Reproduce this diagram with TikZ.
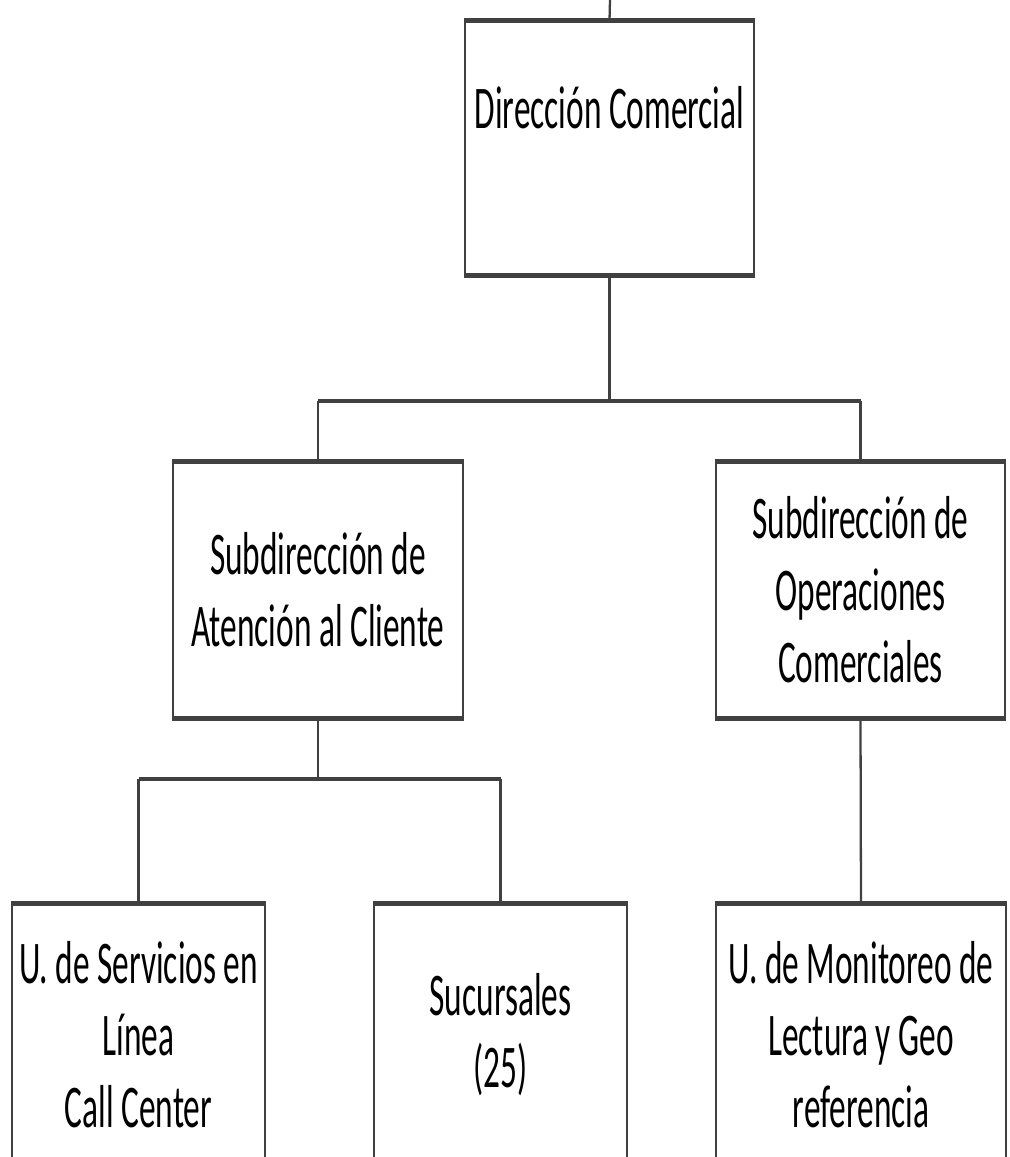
\documentclass[tikz,border=0pt]{standalone}
\usepackage{fontspec}
\setmainfont{Carlito}[FakeStretch=0.55]
\usetikzlibrary{calc}
\definecolor{linegray}{RGB}{64,64,64}

\begin{document}
\begin{tikzpicture}[x=0.02cm, y=-0.02cm,
  box/.style={draw=linegray, line width=1.3pt, inner sep=0pt, align=center, fill=white,
    font=\fontsize{34.5}{41}\selectfont},
  vline/.style={draw=linegray, line width=1.3pt},
  hline/.style={draw=linegray, line width=2.8pt}]
\useasboundingbox (0,0) rectangle (1009,1157);
\clip (0,0) rectangle (1009,1157);
\coordinate (top) at (610,0);
\coordinate (j1) at (610,401);
\coordinate (j2) at (320,779);
\node[box, minimum width=5.78cm, minimum height=5.04cm, text height=0.5cm, text depth=1.3cm] (dir) at (609.5,148) {Dirección Comercial};
\node[box, minimum width=5.8cm, minimum height=5.08cm] (sac) at (318,590) {Subdirección de\\Atención al Cliente};
\node[box, minimum width=5.78cm, minimum height=5.08cm] (soc) at (860.5,590) {Subdirección de\\Operaciones\\Comerciales};
\node[box, minimum width=5.06cm, minimum height=5.2cm] (usl) at (138.5,1035) {U. de Servicios en\\Línea\\Call Center};
\node[box, minimum width=5.06cm, minimum height=5.2cm] (suc) at (500.5,1035) {Sucursales\\(25)};
\node[box, minimum width=5.8cm, minimum height=5.2cm] (umg) at (861,1035) {U. de Monitoreo de\\Lectura y Geo\\referencia};
% thick top and bottom edges
\foreach \n in {dir,sac,soc,usl,suc,umg}
  \draw[hline] (\n.north west) -- (\n.north east) (\n.south west) -- (\n.south east);
\draw[vline] (top) -- (dir.north);
\draw[vline] (dir.south) -- (dir.south |- j1);
\draw[hline] (sac.north |- j1) -- (soc.north |- j1);
\draw[vline] (sac.north |- j1) -- (sac.north);
\draw[vline] (soc.north |- j1) -- (soc.north);
\draw[vline] (sac.south) -- (sac.south |- j2);
\draw[hline] (usl.north |- j2) -- (suc.north |- j2);
\draw[vline] (usl.north |- j2) -- (usl.north);
\draw[vline] (suc.north |- j2) -- (suc.north);
\draw[vline] (soc.south) -- (umg.north);
\end{tikzpicture}
\end{document}
